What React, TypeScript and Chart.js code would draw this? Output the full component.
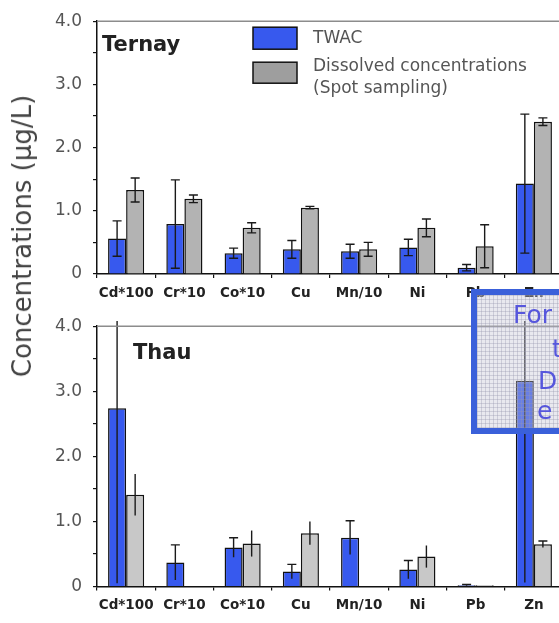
import React, { useEffect, useRef } from 'react';
import { Chart, registerables } from 'chart.js';

Chart.register(...registerables);

// ---------- data ----------
const categories = ['Cd*100', 'Cr*10', 'Co*10', 'Cu', 'Mn/10', 'Ni', 'Pb', 'Zn'];

const ternayTwac = [0.56, 0.79, 0.33, 0.39, 0.36, 0.42, 0.1, 1.43];
const ternayTwacErr = [0.28, 0.7, 0.08, 0.14, 0.11, 0.13, 0.05, 1.1];
const ternayDissolved = [1.33, 1.19, 0.73, 1.05, 0.39, 0.73, 0.44, 2.41];
const ternayDissolvedErr = [0.19, 0.06, 0.08, 0.02, 0.11, 0.14, 0.34, 0.06];

const thauTwac = [2.74, 0.37, 0.6, 0.23, 0.75, 0.26, 0.02, 3.16];
const thauTwacErr = [2.69, 0.27, 0.15, 0.11, 0.26, 0.14, 0.01, 3.1];
const thauDissolved = [1.41, null, 0.66, 0.82, null, 0.46, 0.02, 0.65];
const thauDissolvedErr = [0.32, null, 0.2, 0.18, null, 0.17, 0, 0.05];

const yTicks = [0, 0.5, 1, 1.5, 2, 2.5, 3, 3.5, 4];

const seriesNames = ['TWAC', 'Dissolved concentrations', '(Spot sampling)'];
const yTitle = 'Concentrations (µg/L)';

// ---------- styles ----------
const BLUE = '#3759ee';
const GREY_TOP = '#b3b3b3';
const GREY_BOTTOM = '#c8c8c8';
const FONT = '"DejaVu Sans", Verdana, sans-serif';

const errorBarPlugin = {
  id: 'errorBars',
  afterDatasetsDraw(chart: any) {
    const ctx = chart.ctx;
    const yScale = chart.scales.y;
    chart.data.datasets.forEach((ds: any, di: number) => {
      const errs = ds.errors;
      if (!errs) return;
      const meta = chart.getDatasetMeta(di);
      meta.data.forEach((bar: any, i: number) => {
        const v = ds.data[i];
        const e = errs[i];
        if (v == null || e == null) return;
        const clip = ds.errorClip ?? Infinity;
        const hi = Math.min(v + e, clip);
        const lo = Math.max(v - e, 0);
        const yHi = yScale.getPixelForValue(hi);
        const yLo = yScale.getPixelForValue(lo);
        const x = bar.x;
        const capW = 4.5;
        ctx.save();
        ctx.strokeStyle = '#1a1a1a';
        ctx.lineWidth = 1.4;
        ctx.beginPath();
        ctx.moveTo(x, yHi);
        ctx.lineTo(x, yLo);
        const capTop = Array.isArray(ds.capTop) ? ds.capTop[i] : ds.capTop;
        const capBottom = Array.isArray(ds.capBottom) ? ds.capBottom[i] : ds.capBottom;
        if (capTop && hi < clip) {
          ctx.moveTo(x - capW, yHi);
          ctx.lineTo(x + capW, yHi);
        }
        if (capBottom) {
          ctx.moveTo(x - capW, yLo);
          ctx.lineTo(x + capW, yLo);
        }
        ctx.stroke();
        ctx.restore();
      });
    });
  },
};

const decorPlugin = {
  id: 'decor',
  afterDraw(chart: any, _args: any, opts: any) {
    const ctx = chart.ctx;
    const a = chart.chartArea;
    ctx.save();
    // top frame line
    ctx.strokeStyle = '#8c8c8c';
    ctx.lineWidth = 1.5;
    ctx.beginPath();
    ctx.moveTo(a.left, a.top);
    ctx.lineTo(a.right, a.top);
    ctx.stroke();
    // panel title
    ctx.fillStyle = '#222';
    ctx.font = `bold 21px ${FONT}`;
    ctx.textBaseline = 'alphabetic';
    ctx.textAlign = 'left';
    ctx.fillText(opts.title, a.left + opts.titleDx, a.top + opts.titleDy);
    // legend
    if (opts.legend) {
      const lx = a.left + 156;
      ctx.lineWidth = 1.5;
      ctx.strokeStyle = '#111';
      ctx.fillStyle = BLUE;
      ctx.fillRect(lx, a.top + 6, 44, 22);
      ctx.strokeRect(lx, a.top + 6, 44, 22);
      ctx.fillStyle = '#9e9e9e';
      ctx.fillRect(lx, a.top + 41, 44, 21);
      ctx.strokeRect(lx, a.top + 41, 44, 21);
      ctx.fillStyle = '#555';
      ctx.font = `17px ${FONT}`;
      ctx.textBaseline = 'middle';
      ctx.fillText(seriesNames[0], a.left + 216, a.top + 17);
      ctx.fillText(seriesNames[1], a.left + 216, a.top + 45);
      ctx.fillText(seriesNames[2], a.left + 216, a.top + 67);
    }
    ctx.restore();
  },
};

function buildConfig(
  twac: (number | null)[],
  twacErr: (number | null)[],
  diss: (number | null)[],
  dissErr: (number | null)[],
  grey: string,
  top: boolean,
  xAxisH: number,
  padTop: number
): any {
  return {
    type: 'bar',
    data: {
      labels: categories,
      datasets: [
        {
          label: seriesNames[0],
          data: twac,
          errors: twacErr,
          backgroundColor: BLUE,
          borderColor: '#111',
          borderWidth: 1.5,
          capTop: true,
          capBottom: top,
          errorClip: 4.08,
        },
        {
          label: seriesNames[1],
          data: diss,
          errors: dissErr,
          backgroundColor: grey,
          borderColor: '#111',
          borderWidth: 1.5,
          capTop: top ? true : categories.map((c) => c === 'Zn'),
          capBottom: top,
          errorClip: 4.08,
        },
      ],
    },
    options: {
      responsive: false,
      animation: false,
      devicePixelRatio: 1,
      categoryPercentage: 0.62,
      barPercentage: 1.0,
      layout: { padding: { top: padTop, left: 0, right: 17, bottom: 0 } },
      plugins: {
        legend: { display: false },
        tooltip: { enabled: false },
        decor: top
          ? { title: 'Ternay', titleDx: 5, titleDy: 30, legend: true }
          : { title: 'Thau', titleDx: 36, titleDy: 33, legend: false },
      },
      scales: {
        x: {
          offset: true,
          grid: {
            offset: true,
            drawOnChartArea: false,
            drawTicks: true,
            tickLength: 4,
            color: '#111',
            lineWidth: 1.2,
          },
          border: { display: true, color: '#111', width: 1.5 },
          ticks: {
            padding: 7,
            color: '#222',
            font: { family: FONT, size: 13.5, weight: 'bold' },
            maxRotation: 0,
            autoSkip: false,
          },
          afterFit(scale: any) {
            scale.height = xAxisH;
          },
        },
        y: {
          min: 0,
          max: 4,
          afterBuildTicks(scale: any) {
            scale.ticks = yTicks.map((v) => ({ value: v }));
          },
          grid: {
            drawOnChartArea: false,
            drawTicks: true,
            tickLength: 4,
            color: '#111',
            lineWidth: 1.2,
          },
          border: { display: true, color: '#111', width: 1.5 },
          ticks: {
            padding: 11,
            color: '#555',
            font: { family: FONT, size: 17 },
            callback: (v: number) => (v % 1 === 0 ? (v === 0 ? '0' : v.toFixed(1)) : ''),
          },
          afterFit(scale: any) {
            scale.width = 97;
          },
        },
      },
    },
    plugins: [errorBarPlugin, decorPlugin],
  };
}

export default function App() {
  const topRef = useRef<HTMLCanvasElement>(null);
  const botRef = useRef<HTMLCanvasElement>(null);

  useEffect(() => {
    const c1 = new Chart(
      topRef.current as HTMLCanvasElement,
      buildConfig(ternayTwac, ternayTwacErr, ternayDissolved, ternayDissolvedErr, GREY_TOP, true, 31, 13)
    );
    const c2 = new Chart(
      botRef.current as HTMLCanvasElement,
      buildConfig(thauTwac, thauTwacErr, thauDissolved, thauDissolvedErr, GREY_BOTTOM, false, 36.5, 20)
    );
    return () => {
      c1.destroy();
      c2.destroy();
    };
  }, []);

  const overlayText: React.CSSProperties = {
    position: 'absolute',
    fontFamily: FONT,
    fontSize: 25,
    lineHeight: '25px',
    color: '#5656dc',
    whiteSpace: 'nowrap',
  };

  return (
    <div
      style={{
        position: 'fixed',
        left: 0,
        top: 0,
        width: 559,
        height: 623,
        overflow: 'hidden',
        background: '#fff',
      }}
    >
      <canvas ref={topRef} width={580} height={305} style={{ position: 'absolute', left: 0, top: 0, display: 'block' }} />
      <canvas ref={botRef} width={580} height={318} style={{ position: 'absolute', left: 0, top: 305, display: 'block' }} />
      <div
        style={{
          position: 'absolute',
          left: 22,
          top: 236,
          transform: 'translate(-50%, -50%) rotate(-90deg)',
          whiteSpace: 'nowrap',
          fontFamily: FONT,
          fontSize: 26,
          color: '#444',
        }}
      >
        {yTitle}
      </div>
      <div
        style={{
          position: 'absolute',
          left: 471,
          top: 289,
          width: 200,
          height: 145,
          boxSizing: 'border-box',
          border: '6px solid #3a60da',
          backgroundColor: 'rgba(195,195,210,0.36)',
          backgroundImage:
            'linear-gradient(rgba(150,150,175,0.35) 1px, transparent 1px), linear-gradient(90deg, rgba(150,150,175,0.35) 1px, transparent 1px)',
          backgroundSize: '4px 4px',
        }}
      >
        <div style={{ ...overlayText, left: 36, top: 7 }}>For</div>
        <div style={{ ...overlayText, left: 75, top: 41 }}>t</div>
        <div style={{ ...overlayText, left: 61, top: 73 }}>D</div>
        <div style={{ ...overlayText, left: 60, top: 103 }}>e</div>
      </div>
    </div>
  );
}
